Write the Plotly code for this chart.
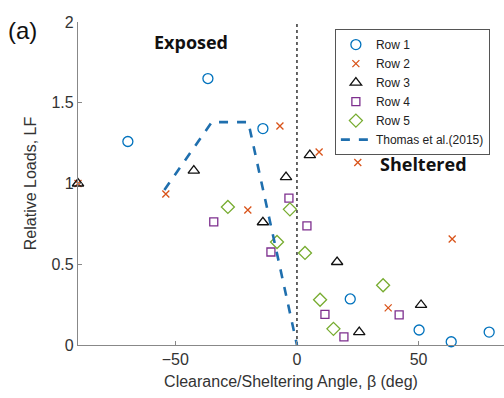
import plotly.graph_objects as go

# Relative loads per row vs clearance/sheltering angle
row1_x = [-69.5, -36.6, -14.0, 21.9, 50.2, 63.4, 79.0]
row1_y = [1.26, 1.65, 1.34, 0.285, 0.093, 0.02, 0.08]

row2_x = [-90.0, -53.9, -20.2, -7.0, 9.1, 25.0, 37.5, 63.8]
row2_y = [1.0, 0.935, 0.836, 1.356, 1.195, 1.13, 0.23, 0.656]

row3_x = [-90.0, -42.4, -14.0, -4.5, 5.3, 16.5, 25.6, 51.0]
row3_y = [1.0, 1.08, 0.76, 1.04, 1.176, 0.514, 0.08, 0.248]

row4_x = [-34.2, -10.7, -3.3, 4.1, 11.5, 19.3, 42.0]
row4_y = [0.762, 0.576, 0.91, 0.737, 0.19, 0.05, 0.186]

row5_x = [-28.4, -8.2, -2.9, 3.3, 9.5, 15.0, 35.4]
row5_y = [0.855, 0.638, 0.84, 0.57, 0.28, 0.10, 0.37]

thomas_x = [-54.5, -35.0, -20.0, 0.0]
thomas_y = [0.96, 1.38, 1.38, 0.0]

x_ticks = [-50, 0, 50]
y_ticks = [0, 0.5, 1, 1.5, 2]
y_tick_text = ["0", "0.5", "1", "1.5", "2"]

BLUE = "#0072BD"
ORANGE = "#D95319"
PURPLE = "#7E2F8E"
GREEN = "#77AC30"

fig = go.Figure()

def scatter(x, y, name, symbol, color, size=9):
    fig.add_trace(go.Scatter(
        x=x, y=y, mode="markers", name=name, cliponaxis=False,
        marker=dict(symbol=symbol, size=size, color=color,
                    line=dict(color=color, width=1.3)),
    ))

scatter(row1_x, row1_y, "Row 1", "circle-open", BLUE, 10)
scatter(row2_x, row2_y, "Row 2", "x-thin-open", ORANGE, 7)
scatter(row3_x, row3_y, "Row 3", "triangle-up-open", "#111111", 10)
scatter(row4_x, row4_y, "Row 4", "square-open", PURPLE, 8)
scatter(row5_x, row5_y, "Row 5", "diamond-open", GREEN, 10)

fig.add_trace(go.Scatter(
    x=thomas_x, y=thomas_y, mode="lines", name="Thomas et al.(2015)",
    line=dict(color="#1f6fae", width=2.6, dash="dash"),
))

# Divider between exposed and sheltered regions
fig.add_shape(type="line", x0=0, x1=0, y0=0, y1=2, xref="x", yref="y",
              line=dict(color="#333333", width=1.5, dash="dot"), layer="below")

fig.add_annotation(x=-43.4, y=1.876, text="<b>Exposed</b>", showarrow=False,
                   xanchor="center", yanchor="middle",
                   font=dict(family="Open Sans", size=18, color="#111111"))
fig.add_annotation(x=52.1, y=1.12, text="<b>Sheltered</b>", showarrow=False,
                   xanchor="center", yanchor="middle",
                   font=dict(family="Open Sans", size=18, color="#111111"))
fig.add_annotation(x=-0.131, y=0.975, xref="paper", yref="paper", text="(a)",
                   showarrow=False, xanchor="center", yanchor="middle",
                   font=dict(family="Liberation Sans", size=24, color="#111111"))

fig.update_layout(
    width=504, height=398,
    margin=dict(l=78, r=0, t=22, b=53),
    paper_bgcolor="white", plot_bgcolor="white",
    font=dict(family="Liberation Sans", color="#333333"),
    showlegend=True,
    legend=dict(x=0.603, y=0.978, xanchor="left", yanchor="top",
                bgcolor="white", bordercolor="#555555", borderwidth=1,
                font=dict(size=12, color="#222222"), tracegroupgap=0,
                itemwidth=30),
    xaxis=dict(range=[-90, 85.1], tickvals=x_ticks, ticks="inside", ticklen=4,
               tickcolor="#888888", showline=True, linecolor="#888888", linewidth=1.2,
               showgrid=False, zeroline=False, tickfont=dict(size=16, color="#333333"),
               title=dict(text="Clearance/Sheltering Angle, β (deg)",
                          font=dict(size=16, color="#333333"), standoff=8)),
    yaxis=dict(range=[0, 2], tickvals=y_ticks, ticktext=y_tick_text, ticks="inside",
               ticklen=4, tickcolor="#888888", showline=True, linecolor="#888888",
               linewidth=1.2, showgrid=False, zeroline=False,
               tickfont=dict(size=16, color="#333333"),
               title=dict(text="Relative Loads, LF", font=dict(size=16, color="#333333"),
                          standoff=10)),
)

fig.write_html("out.html")
